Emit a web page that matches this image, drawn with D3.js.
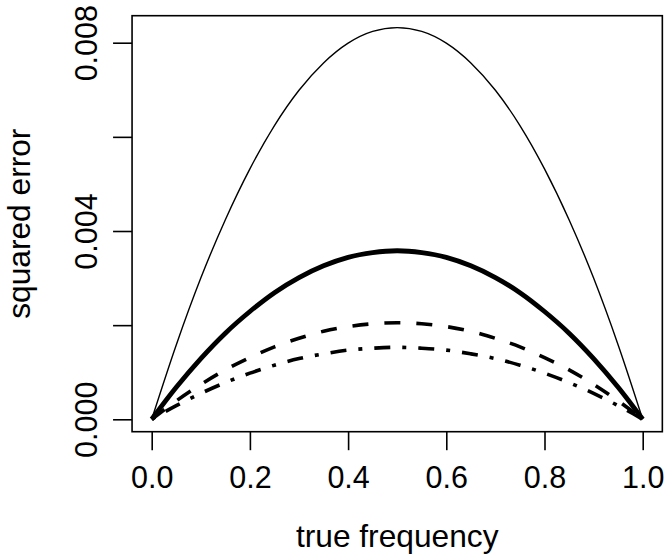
<!DOCTYPE html>
<html>
<head>
<meta charset="utf-8">
<script src="https://cdn.jsdelivr.net/npm/d3@7"></script>
<style>
  html, body { margin: 0; padding: 0; background: #fff; }
  svg { display: block; }
  text { font-family: "Liberation Sans", Arial, Helvetica, sans-serif; fill: #000; }
</style>
</head>
<body>
<svg id="chart" width="665" height="560"></svg>
<script>
// ---- data ----
const freq = [0, 0.05, 0.1, 0.15, 0.2, 0.25, 0.3, 0.35, 0.4, 0.45, 0.5,
              0.55, 0.6, 0.65, 0.7, 0.75, 0.8, 0.85, 0.9, 0.95, 1];
const errThin = [0, 0.00158, 0.00300, 0.00424, 0.00532, 0.00624, 0.00699, 0.00757, 0.00799, 0.00824, 0.00832,
                 0.00824, 0.00799, 0.00757, 0.00699, 0.00624, 0.00532, 0.00424, 0.00300, 0.00158, 0];
const errThick = [0, 0.00068, 0.00129, 0.00183, 0.00229, 0.00269, 0.00301, 0.00326, 0.00344, 0.00354, 0.00358,
                  0.00354, 0.00344, 0.00326, 0.00301, 0.00269, 0.00229, 0.00183, 0.00129, 0.00068, 0];
const errDashed = [0, 0.00039, 0.00074, 0.00105, 0.00131, 0.00154, 0.00172, 0.00187, 0.00197, 0.00203, 0.00205,
                   0.00203, 0.00197, 0.00187, 0.00172, 0.00154, 0.00131, 0.00105, 0.00074, 0.00039, 0];
const errDotDash = [0, 0.00029, 0.00055, 0.00078, 0.00098, 0.00115, 0.00129, 0.00139, 0.00147, 0.00151, 0.00153,
                    0.00151, 0.00147, 0.00139, 0.00129, 0.00115, 0.00098, 0.00078, 0.00055, 0.00029, 0];
const xTicks = [0, 0.2, 0.4, 0.6, 0.8, 1.0];
const xTickLabels = ["0.0", "0.2", "0.4", "0.6", "0.8", "1.0"];
const yTicks = [0, 0.002, 0.004, 0.006, 0.008];
const yTickLabels = ["0.000", "", "0.004", "", "0.008"];
const xTitle = "true frequency";
const yTitle = "squared error";

// ---- layout ----
const svg = d3.select("#chart");
const x = d3.scaleLinear().domain([0, 1]).range([151.7, 642.7]);
const y = d3.scaleLinear().domain([0, 0.008]).range([419.3, 42.7]);
const box = { left: x(-0.04), right: x(1.04), top: 15.7, bottom: 431.7 };

const series = [
  { values: errThin,    width: 1.4, dash: null },
  { values: errThick,   width: 4.8, dash: null },
  { values: errDashed,  width: 3.6, dash: "16,16" },
  { values: errDotDash, width: 3.6, dash: "4,12,16,12" }
];

const line = d3.line()
  .x(d => x(d[0]))
  .y(d => y(d[1]))
  .curve(d3.curveMonotoneX);

series.forEach(s => {
  svg.append("path")
    .datum(freq.map((f, i) => [f, s.values[i]]))
    .attr("d", line)
    .attr("fill", "none")
    .attr("stroke", "#000")
    .attr("stroke-width", s.width)
    .attr("stroke-linecap", "butt")
    .attr("stroke-linejoin", "round")
    .attr("stroke-dasharray", s.dash);
});

// frame
svg.append("rect")
  .attr("x", box.left).attr("y", box.top)
  .attr("width", box.right - box.left).attr("height", box.bottom - box.top)
  .attr("fill", "none").attr("stroke", "#000").attr("stroke-width", 1.6);

// x axis
const xAxis = d3.axisBottom(x).tickValues(xTicks)
  .tickFormat((d, i) => xTickLabels[i]).tickSize(18.5).tickPadding(8);
const gx = svg.append("g").attr("transform", `translate(0,${box.bottom})`).call(xAxis);
gx.select(".domain").remove();
gx.selectAll(".tick line").attr("stroke", "#000").attr("stroke-width", 1.6);
gx.selectAll(".tick text").attr("font-size", 30.5).attr("y", null).attr("dy", null)
  .attr("transform", `translate(0,${488 - box.bottom})`).attr("font-family", null);

// y axis
const yAxis = d3.axisLeft(y).tickValues(yTicks)
  .tickFormat((d, i) => yTickLabels[i]).tickSize(19).tickPadding(8);
const gy = svg.append("g").attr("transform", `translate(${box.left},0)`).call(yAxis);
gy.select(".domain").remove();
gy.selectAll(".tick line").attr("stroke", "#000").attr("stroke-width", 1.6);
gy.selectAll(".tick text")
  .attr("font-size", 30.5).attr("font-family", null)
  .attr("x", null).attr("dy", null)
  .attr("text-anchor", "middle")
  .attr("transform", `translate(${97 - box.left},0) rotate(-90)`);

// titles
svg.append("text")
  .attr("x", (x(0) + x(1)) / 2).attr("y", 547)
  .attr("text-anchor", "middle").attr("font-size", 31.7)
  .text(xTitle);
svg.append("text")
  .attr("transform", `translate(30,${(box.top + box.bottom) / 2}) rotate(-90)`)
  .attr("text-anchor", "middle").attr("font-size", 31.7)
  .text(yTitle);
</script>
</body>
</html>
